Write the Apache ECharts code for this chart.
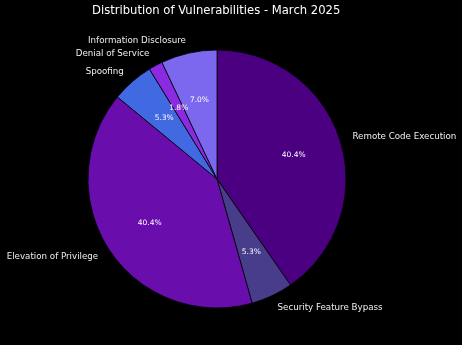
<!DOCTYPE html>
<html><head><meta charset="utf-8">
<script src="https://cdn.jsdelivr.net/npm/echarts@6/dist/echarts.min.js"></script>
<style>html,body{margin:0;padding:0;background:#000;}#c{width:462px;height:345px;}</style>
</head><body><div id="c"></div>
<script>
const categories = ['Remote Code Execution','Security Feature Bypass','Elevation of Privilege','Spoofing','Denial of Service','Information Disclosure'];
const counts = [23, 3, 23, 3, 1, 4];
const colors = ['#4B0082','#483D8B','#6A0DAD','#4169E1','#8A2BE2','#7B68EE'];
const titleText = 'Distribution of Vulnerabilities - March 2025';

const R = 129, cx = 217, cy = 179;
const total = counts.reduce((a,b)=>a+b,0);
const data = categories.map((n,i)=>({name:n, value:counts[i], itemStyle:{color:colors[i]}}));
const chart = echarts.init(document.getElementById('c'), null, {renderer:'canvas'});
chart.setOption({
  backgroundColor:'#000',
  animation:false,
  title:{text:titleText, left:87, top:0, textStyle:{color:'#fff', fontFamily:'DejaVu Sans', fontSize:11.6, fontWeight:'normal'}},
  series:[
    {type:'pie', center:[cx,cy], radius:[0,R], startAngle:90, clockwise:true, avoidLabelOverlap:false,
     data:data,
     itemStyle:{borderColor:'#000', borderWidth:0.8},
     label:{show:true, position:'outside', color:'#f0f0f0', fontFamily:'DejaVu Sans', fontSize:8.7, distanceToLabelLine:0},
     labelLine:{show:false, length:0.1*R, length2:0},
     emphasis:{disabled:true}},
    {type:'pie', center:[cx,cy], radius:[0.2*R,R], startAngle:90, clockwise:true, avoidLabelOverlap:false, silent:true,
     data:categories.map((n,i)=>({name:n, value:counts[i]})),
     itemStyle:{color:'rgba(0,0,0,0)', borderWidth:0},
     label:{show:true, position:'inside', color:'#fff', fontFamily:'DejaVu Sans', fontSize:7.5,
       formatter:p=>(p.value/total*100).toFixed(1)+'%'},
     labelLine:{show:false},
     emphasis:{disabled:true}}
  ]
});
</script></body></html>
